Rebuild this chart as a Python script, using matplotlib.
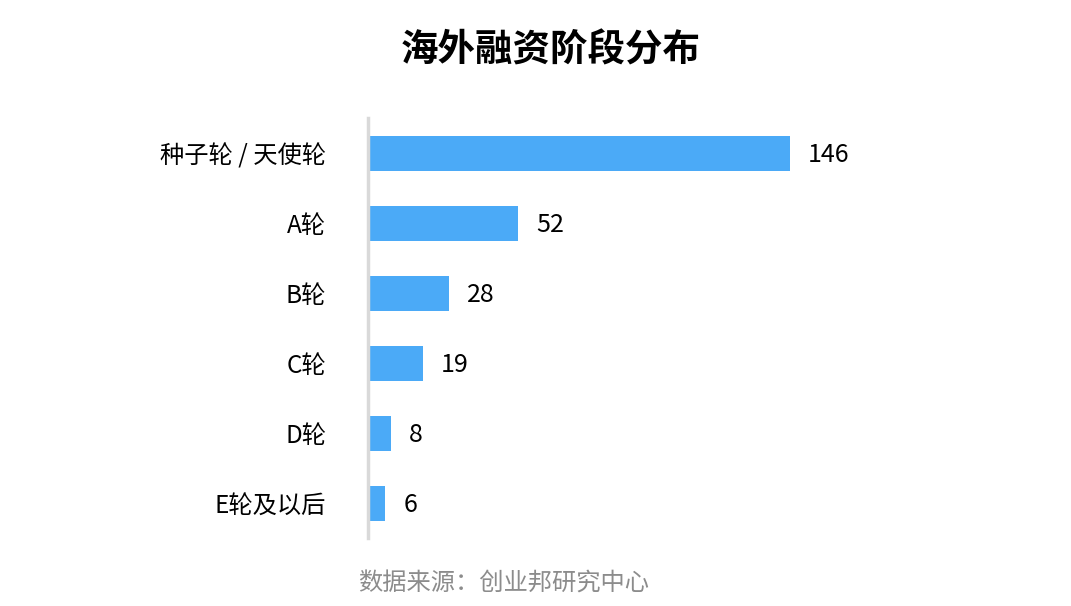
import matplotlib
matplotlib.use("Agg")
from matplotlib import pyplot as plt

plt.rcParams['font.family'] = ['Noto Sans CJK SC', 'DejaVu Sans']

stages = ['种子轮 / 天使轮', 'A轮', 'B轮', 'C轮', 'D轮', 'E轮及以后']
counts = [146, 52, 28, 19, 8, 6]

bar_color = '#4BAAF7'

fig = plt.figure(figsize=(10.71, 6.06), dpi=100)
ax = fig.add_axes([368 / 1071, 1 - 538 / 606, 636 / 1071, 420 / 606])

y = list(range(len(stages)))
ax.barh(y, counts, height=0.5, color=bar_color)
ax.set_xlim(0, 220)
ax.set_ylim(len(stages) - 0.5, -0.5)

for yi, c in zip(y, counts):
    ax.annotate(str(c), (c, yi), xytext=(13, -1.5), textcoords='offset points',
                va='center', ha='left', fontsize=18, color='black')

ax.set_yticks(y)
ax.set_yticklabels(stages, fontsize=17.5)
ax.tick_params(axis='y', length=0, pad=30)
ax.set_xticks([])
for side in ['top', 'right', 'bottom']:
    ax.spines[side].set_visible(False)
ax.spines['left'].set_color('#d9d9d9')
ax.spines['left'].set_linewidth(2.5)

fig.text(0.5145, 1 - 50 / 606, '海外融资阶段分布', ha='center', va='center',
         fontsize=27, fontweight='bold')
fig.text(0.4706, 1 - 584 / 606, '数据来源：创业邦研究中心', ha='center', va='center',
         fontsize=17.5, color='#8c8c8c')

fig.savefig('out.png', dpi=100)
